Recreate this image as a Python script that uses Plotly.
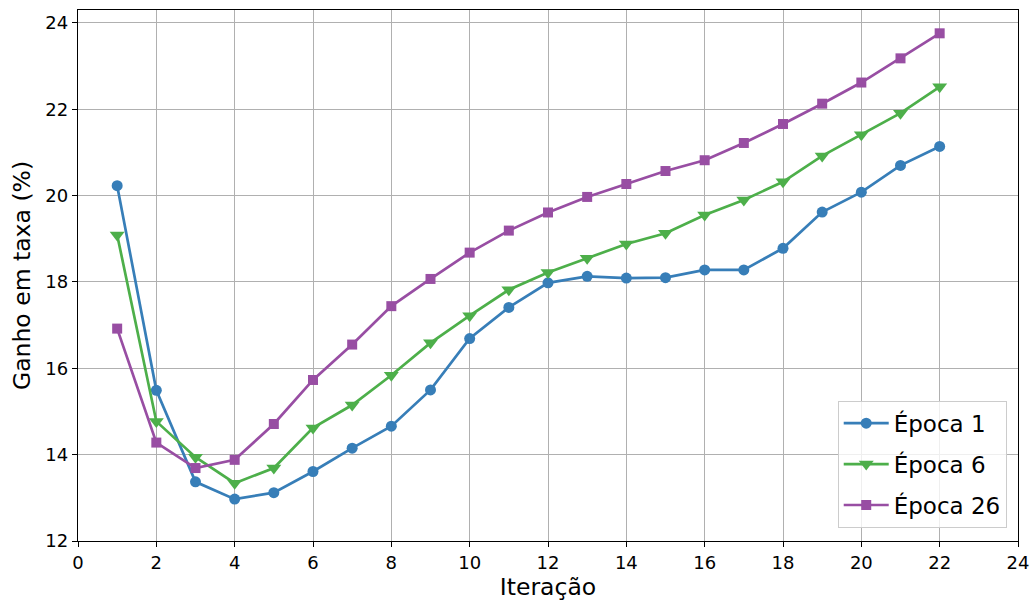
import plotly.graph_objects as go

# Iterations on the x axis
iteracoes = list(range(1, 23))

# Rate gain (%) per iteration for each training epoch
epoca_1 = [20.23, 15.49, 13.37, 12.97, 13.12, 13.61, 14.15, 14.66, 15.50, 16.69, 17.41,
           17.98, 18.13, 18.09, 18.10, 18.28, 18.28, 18.78, 19.62, 20.08, 20.70, 21.14]
epoca_6 = [19.09, 14.77, 13.94, 13.34, 13.69, 14.62, 15.15, 15.84, 16.59, 17.22, 17.82,
           18.22, 18.55, 18.88, 19.13, 19.55, 19.90, 20.32, 20.92, 21.41, 21.91, 22.52]
epoca_26 = [16.92, 14.28, 13.69, 13.88, 14.71, 15.73, 16.55, 17.44, 18.07, 18.68, 19.19,
            19.61, 19.97, 20.27, 20.57, 20.82, 21.22, 21.66, 22.13, 22.62, 23.18, 23.76]

series = [
    ("Época 1", epoca_1, "#377eb8", "circle", 11),
    ("Época 6", epoca_6, "#4daf4a", "triangle-down", 13),
    ("Época 26", epoca_26, "#984ea3", "square", 10),
]

x_ticks = list(range(0, 25, 2))
y_ticks = list(range(12, 25, 2))

fig = go.Figure()
for nome, valores, cor, simbolo, tamanho in series:
    fig.add_trace(go.Scatter(
        x=iteracoes, y=valores, name=nome, mode="lines+markers",
        legendgroup=nome,
        line=dict(color=cor, width=2.7),
        marker=dict(symbol=simbolo, size=tamanho, color=cor),
    ))

axis_common = dict(
    showgrid=True, gridcolor="#b0b0b0", gridwidth=1.2,
    showline=True, linecolor="black", linewidth=1.3, mirror=True,
    ticks="outside", ticklen=5, tickwidth=1.2, tickcolor="black",
    zeroline=False, automargin=False,
    tickfont=dict(family="DejaVu Sans", size=18, color="black"),
)

fig.update_xaxes(
    range=[0, 24], tickvals=x_ticks,
    title=dict(text="Iteração", font=dict(family="DejaVu Sans", size=23.5, color="black"), standoff=6),
    **axis_common,
)
fig.update_yaxes(
    range=[12, 24.3], tickvals=y_ticks,
    title=dict(text="Ganho em taxa (%)", font=dict(family="DejaVu Sans", size=23.5, color="black"), standoff=8),
    **axis_common,
)

fig.update_layout(
    width=1035, height=601,
    margin=dict(l=78, r=17, t=10, b=60),
    plot_bgcolor="white", paper_bgcolor="white",
    font=dict(family="DejaVu Sans", color="black"),
    legend=dict(
        x=0.988, y=0.025, xanchor="right", yanchor="bottom",
        bgcolor="rgba(255,255,255,0.8)", bordercolor="#cccccc", borderwidth=1,
        font=dict(family="DejaVu Sans", size=23, color="black"),
        itemwidth=45, tracegroupgap=8, traceorder="grouped",
    ),
)

fig.write_html("out.html")
